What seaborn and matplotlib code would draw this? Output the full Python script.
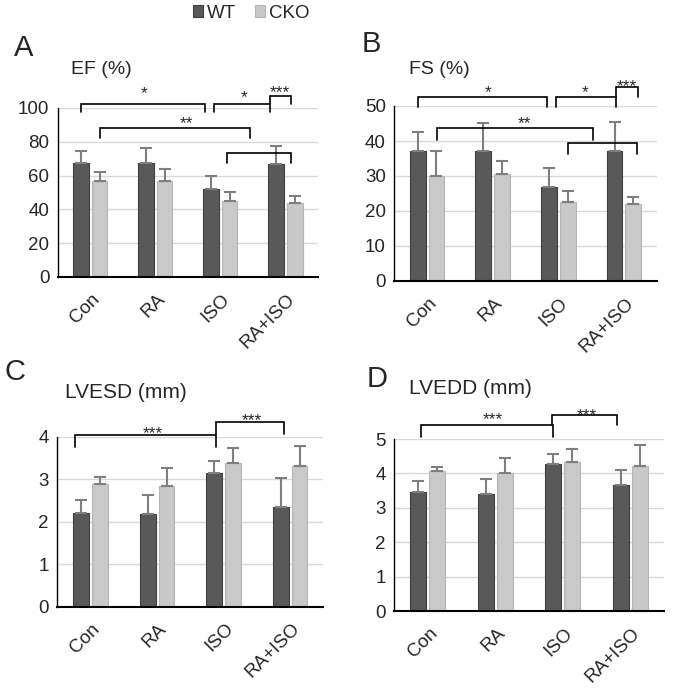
import numpy as np
import pandas as pd
import matplotlib
matplotlib.use("Agg")
import matplotlib.pyplot as plt
import matplotlib.transforms as mtransforms
from matplotlib.patches import Patch
import seaborn as sns

# groups and genotypes
groups = ["Con", "RA", "ISO", "RA+ISO"]
genotypes = ["WT", "CKO"]

# mean values
ef_wt = [67.5, 67.5, 52.0, 67.0]
ef_cko = [57.0, 57.0, 45.0, 44.0]
fs_wt = [37.2, 37.2, 26.8, 37.2]
fs_cko = [30.1, 30.7, 22.6, 21.9]
lvesd_wt = [2.20, 2.17, 3.15, 2.35]
lvesd_cko = [2.88, 2.85, 3.37, 3.30]
lvedd_wt = [3.47, 3.39, 4.26, 3.66]
lvedd_cko = [4.07, 4.02, 4.32, 4.22]

# upper error (SD)
ef_wt_sd = [7.0, 9.0, 8.0, 10.5]
ef_cko_sd = [5.0, 7.0, 5.0, 4.0]
fs_wt_sd = [5.5, 7.8, 5.6, 8.3]
fs_cko_sd = [7.0, 3.6, 3.0, 2.2]
lvesd_wt_sd = [0.31, 0.46, 0.27, 0.67]
lvesd_cko_sd = [0.18, 0.41, 0.36, 0.49]
lvedd_wt_sd = [0.31, 0.44, 0.29, 0.44]
lvedd_cko_sd = [0.12, 0.44, 0.40, 0.60]

# significance brackets: (x_left, x_right, y_top, y_tick_end, label, label_x, label_y)
ef_brackets = [(-0.14, 1.77, 102.4, 97.6, "*", 0.83, 111.8),
               (1.90, 2.77, 102.4, 97.6, "*", 2.36, 109.6),
               (2.77, 3.09, 107.1, 102.4, "***", 2.91, 112.2),
               (0.15, 2.45, 88.2, 82.2, "**", 1.48, 93.9),
               (2.10, 3.09, 73.4, 67.5, "", 0, 0)]
fs_brackets = [(-0.145, 1.83, 52.7, 49.7, "*", 0.93, 55.3),
               (1.97, 2.88, 52.7, 49.7, "*", 2.41, 55.3),
               (2.88, 3.22, 55.5, 52.7, "***", 3.04, 57.1),
               (0.145, 2.53, 43.6, 40.3, "**", 1.49, 46.5),
               (2.15, 3.20, 39.5, 36.3, "", 0, 0)]
lvesd_brackets = [(-0.23, 1.88, 4.04, 3.75, "***", 0.94, 4.20),
                  (1.88, 2.91, 4.34, 4.06, "***", 2.42, 4.51)]
lvedd_brackets = [(-0.10, 1.85, 5.42, 5.07, "***", 0.97, 5.73),
                  (1.84, 2.81, 5.70, 5.41, "***", 2.35, 5.84)]

sns.set_style("white")
plt.rcParams["font.family"] = ["Liberation Sans", "DejaVu Sans"]

W, H = 675, 688
fig = plt.figure(figsize=(W / 100, H / 100), dpi=100)

def px_rect(l, t, r, b):
    return [l / W, 1 - b / H, (r - l) / W, (b - t) / H]

panels = [
    dict(rect=px_rect(57.7, 108, 318, 277), wt=ef_wt, cko=ef_cko, wsd=ef_wt_sd, csd=ef_cko_sd,
         ymax=100, step=20, title="EF (%)", tpos=(71, 70), tsize=14, letter="A", lpos=(14, 48.5),
         br=ef_brackets),
    dict(rect=px_rect(394.3, 106, 656.7, 281), wt=fs_wt, cko=fs_cko, wsd=fs_wt_sd, csd=fs_cko_sd,
         ymax=50, step=10, title="FS (%)", tpos=(409, 69), tsize=14, letter="B", lpos=(362, 44.5),
         br=fs_brackets),
    dict(rect=px_rect(57.3, 436.7, 323.3, 606.7), wt=lvesd_wt, cko=lvesd_cko, wsd=lvesd_wt_sd,
         csd=lvesd_cko_sd, ymax=4, step=1, title="LVESD (mm)", tpos=(65, 393), tsize=15,
         letter="C", lpos=(5, 372.5), br=lvesd_brackets),
    dict(rect=px_rect(394, 439, 664, 611), wt=lvedd_wt, cko=lvedd_cko, wsd=lvedd_wt_sd,
         csd=lvedd_cko_sd, ymax=5, step=1, title="LVEDD (mm)", tpos=(409, 389), tsize=15,
         letter="D", lpos=(367, 379), br=lvedd_brackets),
]

colors = {"WT": "#595959", "CKO": "#c9c9c9"}
edges = {"WT": "#3f3f3f", "CKO": "#b5b5b5"}
fs_tick = 13.5

for p in panels:
    ax = fig.add_axes(p["rect"])
    df = pd.DataFrame({
        "group": groups * 2,
        "genotype": ["WT"] * 4 + ["CKO"] * 4,
        "value": p["wt"] + p["cko"],
    })
    sns.barplot(data=df, x="group", y="value", hue="genotype", order=groups,
                hue_order=genotypes, palette=colors, errorbar=None, width=0.57, gap=0.16,
                linewidth=0.8, ax=ax, legend=False)
    for cont, g, sd in zip(ax.containers, genotypes, [p["wsd"], p["csd"]]):
        xs, hs = [], []
        for bar in cont:
            bar.set_edgecolor(edges[g])
            xs.append(bar.get_x() + bar.get_width() / 2)
            hs.append(bar.get_height())
        ax.errorbar(xs, hs, yerr=[np.zeros(len(sd)), sd], fmt="none", ecolor="#7f7f7f",
                    elinewidth=1.5, capsize=4, capthick=1.5, zorder=3)

    ax.set_xlim(-0.5, 3.5)
    ax.set_ylim(0, p["ymax"])
    ax.set_yticks(np.arange(0, p["ymax"] + p["step"] / 2, p["step"]))
    ax.yaxis.grid(True, color="#d9d9d9", linewidth=1)
    ax.set_axisbelow(True)
    ax.set_xlabel("")
    ax.set_ylabel("")
    for s in ["top", "right"]:
        ax.spines[s].set_visible(False)
    ax.spines["left"].set_color("black")
    ax.spines["left"].set_linewidth(1.0)
    ax.spines["bottom"].set_color("black")
    ax.spines["bottom"].set_linewidth(1.5)
    ax.tick_params(axis="y", length=0, pad=6, labelsize=fs_tick)
    ax.tick_params(axis="x", length=0, pad=14, labelsize=fs_tick)
    offset = mtransforms.ScaledTranslation(7 / 100, 0, fig.dpi_scale_trans)
    for lab in ax.get_xticklabels():
        lab.set_rotation(45)
        lab.set_ha("right")
        lab.set_va("center")
        lab.set_rotation_mode("anchor")
        lab.set_transform(lab.get_transform() + offset)

    for xl, xr, yt, yb, lab, lx, ly in p["br"]:
        ax.plot([xl, xl, xr, xr], [yb, yt, yt, yb], color="black", lw=1.2,
                clip_on=False, zorder=4, solid_joinstyle="miter")
        if lab:
            ax.annotate(lab, (lx, ly), xytext=(0, -0.57 * 12.5), textcoords="offset points",
                        ha="center", va="baseline", fontsize=12.5, annotation_clip=False)

    fig.text(p["tpos"][0] / W, 1 - p["tpos"][1] / H, p["title"], fontsize=p["tsize"],
             ha="left", va="center")
    fig.text(p["lpos"][0] / W, 1 - p["lpos"][1] / H, p["letter"], fontsize=21,
             ha="left", va="center")

# shared legend at the top
handles = [Patch(facecolor=colors[g], edgecolor=edges[g], linewidth=0.8) for g in genotypes]
fig.legend(handles, genotypes, loc="center", bbox_to_anchor=(251 / W, 1 - 13 / H), ncol=2,
           frameon=False, fontsize=13.5, handlelength=0.55, handleheight=0.55,
           handletextpad=0.2, columnspacing=1.0, borderpad=0)

fig.savefig("out.png", dpi=100)
